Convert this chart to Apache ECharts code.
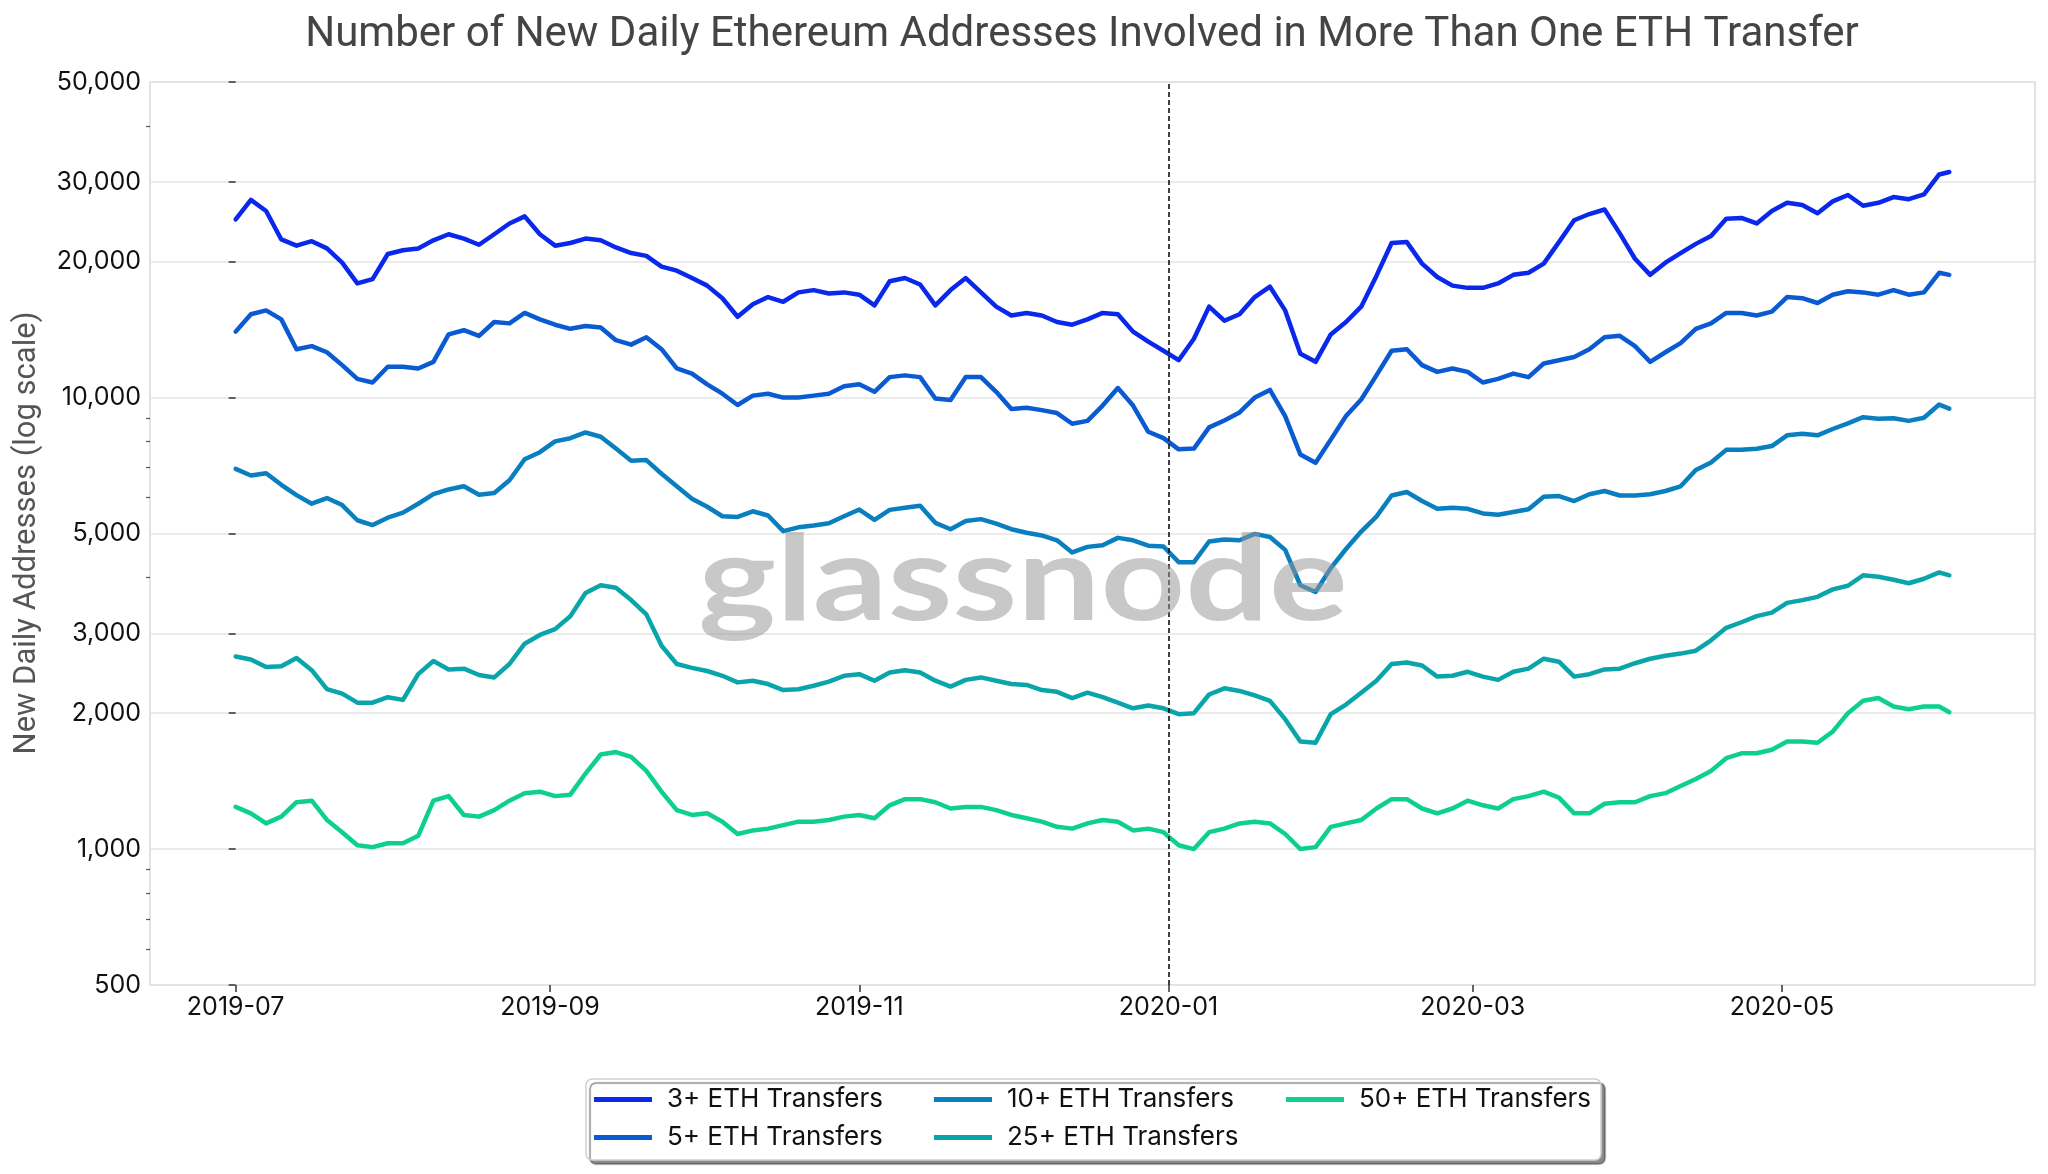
<!DOCTYPE html>
<html><head><meta charset="utf-8">
<script src="https://cdn.jsdelivr.net/npm/echarts@6/dist/echarts.min.js"></script>
<style>html,body{margin:0;padding:0;background:#fff}#c{width:2048px;height:1174px}</style>
</head><body><div id="c"></div>
<script>
const dates = [
'2019-07-01','2019-07-04','2019-07-07','2019-07-10','2019-07-13','2019-07-16','2019-07-19','2019-07-22','2019-07-25','2019-07-28','2019-07-31',
'2019-08-03','2019-08-06','2019-08-09','2019-08-12','2019-08-15','2019-08-18','2019-08-21','2019-08-24','2019-08-27','2019-08-30',
'2019-09-02','2019-09-05','2019-09-08','2019-09-11','2019-09-14','2019-09-17','2019-09-20','2019-09-23','2019-09-26','2019-09-29',
'2019-10-02','2019-10-05','2019-10-08','2019-10-11','2019-10-14','2019-10-17','2019-10-20','2019-10-23','2019-10-26','2019-10-29',
'2019-11-01','2019-11-04','2019-11-07','2019-11-10','2019-11-13','2019-11-16','2019-11-19','2019-11-22','2019-11-25','2019-11-28',
'2019-12-01','2019-12-04','2019-12-07','2019-12-10','2019-12-13','2019-12-16','2019-12-19','2019-12-22','2019-12-25','2019-12-28','2019-12-31',
'2020-01-03','2020-01-06','2020-01-09','2020-01-12','2020-01-15','2020-01-18','2020-01-21','2020-01-24','2020-01-27','2020-01-30',
'2020-02-02','2020-02-05','2020-02-08','2020-02-11','2020-02-14','2020-02-17','2020-02-20','2020-02-23','2020-02-26','2020-02-29',
'2020-03-03','2020-03-06','2020-03-09','2020-03-12','2020-03-15','2020-03-18','2020-03-21','2020-03-24','2020-03-27','2020-03-30',
'2020-04-02','2020-04-05','2020-04-08','2020-04-11','2020-04-14','2020-04-17','2020-04-20','2020-04-23','2020-04-26','2020-04-29',
'2020-05-02','2020-05-05','2020-05-08','2020-05-11','2020-05-14','2020-05-17','2020-05-20','2020-05-23','2020-05-26','2020-05-29',
'2020-06-01','2020-06-03'];

const eth3 = [24800,27400,25900,22400,21700,22200,21400,19900,17900,18300,
 20800,21200,21400,22300,23000,22500,21800,23000,24300,25200,
 23000,21700,22000,22500,22300,21500,20900,20600,19500,19100,
 18400,17700,16600,15100,16100,16700,16300,17100,17300,17000,
 17100,16900,16000,18100,18400,17800,16000,17300,18400,17100,
 15900,15200,15400,15200,14700,14500,14900,15400,15300,14000,
 13300,12700,12100,13500,15900,14800,15300,16700,17600,15600,
 12500,12000,13800,14700,15900,18600,22000,22100,19800,18500,
 17700,17500,17500,17900,18700,18900,19800,22100,24700,25500,
 26100,23100,20300,18700,19900,20900,21900,22800,24900,25000,
 24300,25900,27000,26700,25600,27200,28100,26600,27000,27800,
 27500,28200,31200,31600];

const eth5 = [14000,15300,15600,14900,12800,13000,12600,11800,11000,10800,
 11700,11700,11600,12000,13800,14100,13700,14700,14600,15400,
 14900,14500,14200,14400,14300,13400,13100,13600,12800,11600,
 11300,10700,10200,9630,10100,10200,10000,10000,10100,10200,
 10600,10700,10300,11100,11200,11100,9950,9880,11100,11100,
 10300,9440,9490,9380,9240,8750,8880,9600,10500,9600,
 8400,8130,7680,7710,8590,8900,9270,10000,10400,9100,
 7480,7170,8070,9100,9900,11200,12700,12800,11800,11400,
 11600,11400,10800,11000,11300,11100,11900,12100,12300,12800,
 13600,13700,13000,12000,12600,13200,14200,14600,15400,15400,
 15200,15500,16700,16600,16200,16900,17200,17100,16900,17300,
 16900,17100,18900,18700];

const eth10 = [6950,6720,6800,6410,6080,5820,5990,5780,5350,5220,
 5420,5560,5820,6110,6260,6360,6090,6150,6560,7300,
 7570,8000,8130,8370,8190,7710,7250,7270,6780,6360,
 5970,5730,5460,5440,5600,5480,5060,5160,5210,5270,
 5460,5650,5360,5640,5700,5760,5280,5110,5330,5380,
 5260,5110,5020,4950,4830,4540,4670,4710,4890,4830,
 4700,4680,4320,4320,4800,4850,4830,4990,4910,4600,
 3840,3710,4190,4620,5050,5450,6070,6180,5900,5670,
 5700,5670,5540,5500,5580,5660,6030,6050,5900,6110,
 6210,6070,6070,6110,6210,6360,6910,7180,7660,7660,
 7700,7810,8250,8320,8250,8520,8770,9050,8980,9000,
 8880,9020,9650,9450];

const eth25 = [2670,2630,2530,2540,2650,2490,2260,2210,2110,2110,
 2170,2140,2440,2610,2500,2510,2430,2400,2570,2850,
 2980,3070,3280,3690,3840,3790,3560,3310,2820,2570,
 2520,2480,2420,2340,2360,2320,2250,2260,2300,2350,
 2420,2440,2360,2460,2490,2460,2360,2290,2370,2400,
 2360,2320,2310,2250,2230,2160,2220,2170,2110,2050,
 2080,2050,1990,2000,2200,2270,2240,2190,2130,1940,
 1730,1720,1990,2090,2220,2360,2570,2590,2550,2410,
 2420,2470,2410,2370,2470,2510,2640,2600,2410,2440,
 2500,2510,2580,2640,2680,2710,2750,2900,3090,3180,
 3280,3340,3510,3560,3620,3760,3830,4040,4010,3950,
 3880,3970,4100,4040];

const eth50 = [1240,1200,1140,1180,1270,1280,1160,1090,1020,1010,
 1030,1030,1070,1280,1310,1190,1180,1220,1280,1330,
 1340,1310,1320,1470,1620,1640,1600,1490,1340,1220,
 1190,1200,1150,1080,1100,1110,1130,1150,1150,1160,
 1180,1190,1170,1250,1290,1290,1270,1230,1240,1240,
 1220,1190,1170,1150,1120,1110,1140,1160,1150,1100,
 1110,1090,1020,1000,1090,1110,1140,1150,1140,1080,
 1000,1010,1120,1140,1160,1230,1290,1290,1230,1200,
 1230,1280,1250,1230,1290,1310,1340,1300,1200,1200,
 1260,1270,1270,1310,1330,1380,1430,1490,1590,1630,
 1630,1660,1730,1730,1720,1820,2000,2130,2160,2070,
 2040,2070,2070,2010];

const seriesNames = ['3+ ETH Transfers','5+ ETH Transfers','10+ ETH Transfers','25+ ETH Transfers','50+ ETH Transfers'];
const seriesValues = [eth3, eth5, eth10, eth25, eth50];
const seriesColors = ['#0a28ec','#0a5ad2','#0a7fbf','#0aa5ab','#0dcf92'];

const yMajorTicks = [500,1000,2000,3000,5000,10000,20000,30000,50000];
const yMinorTicks = [600,700,800,900,4000,6000,7000,8000,9000,40000];
const xTickDates = ['2019-07-01','2019-09-01','2019-11-01','2020-01-01','2020-03-01','2020-05-01'];
const xTickLabels = ['2019-07','2019-09','2019-11','2020-01','2020-03','2020-05'];
const markerDate = '2020-01-01';
const titleText = 'Number of New Daily Ethereum Addresses Involved in More Than One ETH Transfer';
const yTitle = 'New Daily Addresses (log scale)';
const watermark = 'glassnode';

// x positions are days since the first date, on a numeric axis
const DAY = 86400000;
const toTs = s => Date.parse(s + 'T00:00:00Z');
const t0 = toTs(dates[0]);
const toDay = s => Math.round((toTs(s) - t0) / DAY);
const xFirst = toDay(dates[0]);
const xLast = toDay(dates[dates.length - 1]);
const pad = (xLast - xFirst) * 0.05;
const xTickVals = xTickDates.map(toDay);

const chart = echarts.init(document.getElementById('c'), null, {renderer: 'canvas'});

const series = seriesNames.map((name, k) => {
  const s = {
    name: name,
    type: 'line',
    data: dates.map((d, i) => [toDay(d), seriesValues[k][i]]),
    showSymbol: false,
    symbol: 'none',
    color: seriesColors[k],
    lineStyle: {width: 4.5, color: seriesColors[k], cap: 'round', join: 'round'},
    emphasis: {disabled: true},
    z: 2 + k
  };
  if (k === 0) {
    s.markLine = {
      silent: true,
      symbol: ['none', 'none'],
      label: {show: false},
      lineStyle: {color: '#111', type: [5, 3], width: 1.6},
      data: [{xAxis: toDay(markerDate)}],
      z: 20
    };
  }
  return s;
});

const legendBase = {
  orient: 'vertical',
  top: 1081,
  itemWidth: 58,
  itemHeight: 5,
  itemGap: 11,
  icon: 'rect',
  textStyle: {fontFamily: 'Inter', fontSize: 26, color: '#111', lineHeight: 27, padding: [0, 0, 0, 10]},
  z: 10
};

chart.setOption({
  animation: false,
  backgroundColor: '#ffffff',
  grid: {left: 150, right: 13, top: 82, bottom: 189, show: true, borderColor: '#d9d9d9', borderWidth: 1.5, backgroundColor: 'transparent'},
  xAxis: {
    type: 'value',
    min: xFirst - pad,
    max: xLast + pad,
    axisLine: {show: false},
    splitLine: {show: false},
    axisTick: {show: true, length: 7, lineStyle: {color: '#333', width: 1.5}, customValues: xTickVals},
    axisLabel: {customValues: xTickVals, formatter: v => xTickLabels[xTickVals.indexOf(Math.round(v))] || '', fontFamily: 'Inter', fontSize: 25, color: '#111', margin: 10, hideOverlap: false, showMinLabel: true, showMaxLabel: true}
  },
  yAxis: [{
    type: 'log',
    logBase: 10,
    min: 499.99,
    max: 50000.01,
    axisLine: {show: false},
    axisTick: {show: true, length: 7, lineStyle: {color: '#333', width: 1.5}, customValues: yMajorTicks},
    axisLabel: {customValues: yMajorTicks, formatter: v => Math.round(v).toLocaleString('en-US'), fontFamily: 'Inter', fontSize: 25, color: '#111', margin: 9, showMinLabel: true, showMaxLabel: true},
    splitLine: {show: true, lineStyle: {color: '#e4e4e4', width: 1.5}}
  }, {
    type: 'log',
    logBase: 10,
    min: 499.99,
    max: 50000.01,
    position: 'left',
    axisLine: {show: false},
    axisTick: {show: true, length: 4, lineStyle: {color: '#555', width: 1.2}, customValues: yMinorTicks},
    axisLabel: {show: false},
    splitLine: {show: false}
  }],
  legend: [
    Object.assign({}, legendBase, {left: 589, data: [seriesNames[0], seriesNames[1]]}),
    Object.assign({}, legendBase, {left: 929, data: [seriesNames[2], seriesNames[3]]}),
    Object.assign({}, legendBase, {left: 1281, data: [seriesNames[4]]})
  ],
  graphic: [
    {type: 'rect', z: 1, shape: {x: 586, y: 1079, width: 1015, height: 81, r: 6},
     style: {fill: '#fff', stroke: '#cfcfcf', lineWidth: 1.5, shadowColor: 'rgba(0,0,0,0.45)', shadowOffsetX: 4, shadowOffsetY: 4, shadowBlur: 1}},
    {type: 'text', z: 10, x: 1082, y: 35,
     style: {text: titleText, font: '400 42px Roboto', fill: '#444', textAlign: 'center', textVerticalAlign: 'middle'}},
    {type: 'text', z: 10, x: 27, y: 533, rotation: Math.PI / 2,
     style: {text: yTitle, font: '400 31px Roboto', fill: '#555', textAlign: 'center', textVerticalAlign: 'middle'}},
    {type: 'text', z: 100, x: 1023, y: 582, scaleX: 1.25, scaleY: 1,
     style: {text: watermark, font: '700 118px Lato', fill: 'rgba(150,150,150,0.52)', textAlign: 'center', textVerticalAlign: 'middle'}}
  ],
  series: series
});
</script>
</body></html>
